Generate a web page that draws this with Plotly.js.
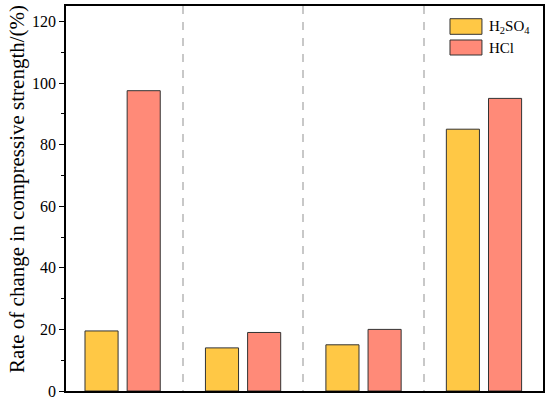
<!DOCTYPE html>
<html>
<head>
<meta charset="utf-8">
<script src="https://cdn.plot.ly/plotly-3.0.1.min.js"></script>
<style>body{margin:0;} #plot{width:550px;height:398px;}</style>
</head>
<body>
<div id="plot"></div>
<script>
// four test groups, no x labels in the original
var groups = [0, 1, 2, 3];
var h2so4 = [19.5, 14, 15, 85];
var hcl = [97.5, 19, 20, 95];
var seriesNames = ["H<sub>2</sub>SO<sub>4</sub>", "HCl"];
var colors = ["#FFC845", "#FF8A78"];
var yTitle = "Rate of change in compressive strength/(%)";

var serif = "Liberation Serif";

var trace1 = {
  x: groups,
  y: h2so4,
  name: seriesNames[0],
  type: "bar",
  showlegend: false,
  marker: {color: colors[0], line: {color: "#333333", width: 1}}
};

var trace2 = {
  x: groups,
  y: hcl,
  name: seriesNames[1],
  type: "bar",
  showlegend: false,
  marker: {color: colors[1], line: {color: "#333333", width: 1}}
};

// hand-made legend (the original uses wide swatches)
var legShapes = [];
var legNotes = [];
var rows = [[0.9265, 0.967], [0.8727, 0.9117]];
rows.forEach(function (r, i) {
  legShapes.push({
    type: "rect", xref: "paper", yref: "paper",
    x0: 0.805, x1: 0.872, y0: r[0], y1: r[1],
    fillcolor: colors[i], line: {color: "#333333", width: 1}
  });
  legNotes.push({
    xref: "paper", yref: "paper", x: 0.882, y: (r[0] + r[1]) / 2,
    xanchor: "left", yanchor: "middle", showarrow: false,
    text: seriesNames[i], font: {family: serif, size: 15, color: "#000"}
  });
});

// y title as annotation so it can sit a bit above centre like the original
legNotes.push({
  xref: "paper", yref: "paper", x: -0.1027, y: 0.525,
  xanchor: "center", yanchor: "middle", showarrow: false, textangle: -90,
  text: yTitle, font: {family: serif, size: 21, color: "#000"}
});

var layout = {
  width: 550,
  height: 398,
  margin: {l: 66, r: 7, t: 6, b: 7},
  font: {family: serif, color: "#000", size: 16},
  barmode: "group",
  bargap: 0.3,
  bargroupgap: 0.215,
  paper_bgcolor: "#fff",
  plot_bgcolor: "#fff",
  showlegend: false,
  shapes: legShapes,
  annotations: legNotes,
  xaxis: {
    range: [-0.47, 3.49],
    tickvals: [0.5, 1.5, 2.5],
    showticklabels: false,
    ticks: "",
    showgrid: true,
    gridcolor: "#c8c8c8",
    gridwidth: 1.5,
    griddash: "8px,8px",
    zeroline: false,
    showline: true,
    linecolor: "#000",
    linewidth: 1.5,
    mirror: true
  },
  yaxis: {
    range: [0, 125],
    dtick: 20,
    ticks: "outside",
    ticklen: 5,
    tickwidth: 1.3,
    tickcolor: "#000",
    tickfont: {family: serif, size: 16, color: "#000"},
    ticklabeloverflow: "allow",
    minor: {dtick: 10, ticks: "outside", ticklen: 3, tickwidth: 1.3, tickcolor: "#000", showgrid: false},
    showgrid: false,
    zeroline: false,
    showline: true,
    linecolor: "#000",
    linewidth: 1.5,
    mirror: true
  }
};

Plotly.newPlot("plot", [trace1, trace2], layout, {displayModeBar: false});
</script>
</body>
</html>
